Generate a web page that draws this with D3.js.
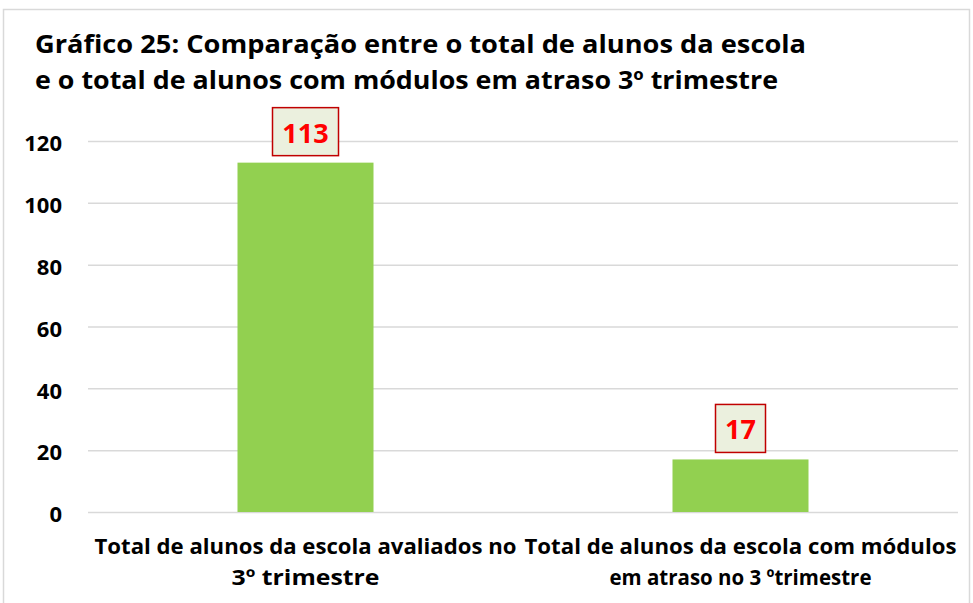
<!DOCTYPE html>
<html>
<head>
<meta charset="utf-8">
<script src="https://cdn.jsdelivr.net/npm/d3@7"></script>
<style>
  body { margin: 0; background: #fff; }
  text { font-family: "Open Sans", "Noto Sans", sans-serif; font-weight: bold; }
</style>
</head>
<body>
<svg id="chart" width="973" height="603"></svg>
<script>
// data
var categories = ["cat1", "cat2"];
var labelLines = [
    ["Total de alunos da escola avaliados no", "3º trimestre"],
    ["Total de alunos da escola com módulos", "em atraso no 3 ºtrimestre"]
];
var values = [113, 17];
var yTicks = [0, 20, 40, 60, 80, 100, 120];
var titleLines = [
    "Gráfico 25: Comparação entre o total de alunos da escola",
    "e o total de alunos com módulos em atraso 3º trimestre"
];

var svg = d3.select("#chart");

// chart border
svg.append("rect")
    .attr("x", 3.5)
    .attr("y", 9.5)
    .attr("width", 966)
    .attr("height", 610)
    .attr("fill", "#fff")
    .attr("stroke", "#d9d9d9")
    .attr("stroke-width", 1.5);

var plotLeft = 88, plotRight = 958, plotTop = 141, plotBottom = 512;

var x = d3.scaleBand().domain(categories).range([plotLeft, plotRight]).paddingInner(0).paddingOuter(0);
var y = d3.scaleLinear().domain([0, 120]).range([plotBottom, plotTop]);

// title
var titleWidths = [771, 743];
svg.selectAll(".title")
    .data(titleLines)
    .enter()
    .append("text")
    .attr("class", "title")
    .attr("x", 35)
    .attr("y", function (d, i) { return 53 + i * 36; })
    .attr("font-size", "25px")
    .attr("fill", "#000")
    .attr("textLength", function (d, i) { return titleWidths[i]; })
    .attr("lengthAdjust", "spacingAndGlyphs")
    .text(function (d) { return d; });

// gridlines
svg.append("g")
    .attr("transform", "translate(" + plotLeft + ",0)")
    .call(d3.axisLeft(y).tickValues(yTicks).tickSize(-(plotRight - plotLeft)).tickFormat(""))
    .call(function (g) {
        g.select(".domain").remove();
        g.selectAll("line").attr("stroke", "#d9d9d9").attr("stroke-width", 1.5);
    });

// y tick labels
svg.append("g")
    .attr("transform", "translate(" + 62 + ",0)")
    .call(d3.axisLeft(y).tickValues(yTicks).tickSize(0).tickPadding(0))
    .call(function (g) {
        g.select(".domain").remove();
        g.selectAll("text")
            .attr("font-size", "22px")
            .attr("font-family", "'Open Sans', sans-serif")
            .attr("font-weight", "bold")
            .attr("fill", "#000")
            .attr("dy", "0.44em");
    });

// bars
var barW = 136;
svg.selectAll(".bar")
    .data(values)
    .enter()
    .append("rect")
    .attr("class", "bar")
    .attr("x", function (d, i) { return x(categories[i]) + x.bandwidth() / 2 - barW / 2; })
    .attr("y", function (d) { return y(d); })
    .attr("width", barW)
    .attr("height", function (d) { return y(0) - y(d); })
    .attr("fill", "#92d050");

// value labels in boxes
var boxW = [66, 50];
var lbl = svg.selectAll(".lbl")
    .data(values)
    .enter()
    .append("g")
    .attr("class", "lbl")
    .attr("transform", function (d, i) {
        return "translate(" + (x(categories[i]) + x.bandwidth() / 2) + "," + (y(d) - 7) + ")";
    });

lbl.append("rect")
    .attr("x", function (d, i) { return -boxW[i] / 2; })
    .attr("y", -48)
    .attr("width", function (d, i) { return boxW[i]; })
    .attr("height", 48)
    .attr("fill", "#ebf0de")
    .attr("stroke", "#c00000")
    .attr("stroke-width", 1.5);

lbl.append("text")
    .attr("x", 0)
    .attr("y", -13)
    .attr("text-anchor", "middle")
    .attr("font-size", "27px")
    .attr("fill", "#ff0000")
    .text(function (d) { return d; });

// category labels
var catWidths = [[422, 148], [432, 262]];
labelLines.forEach(function (lines, i) {
    svg.selectAll(".cat" + i)
        .data(lines)
        .enter()
        .append("text")
        .attr("x", x(categories[i]) + x.bandwidth() / 2)
        .attr("y", function (d, j) { return 554 + j * 31; })
        .attr("text-anchor", "middle")
        .attr("font-size", "22px")
        .attr("fill", "#000")
        .attr("textLength", function (d, j) { return catWidths[i][j]; })
        .attr("lengthAdjust", "spacingAndGlyphs")
        .text(function (d) { return d; });
});
</script>
</body>
</html>
